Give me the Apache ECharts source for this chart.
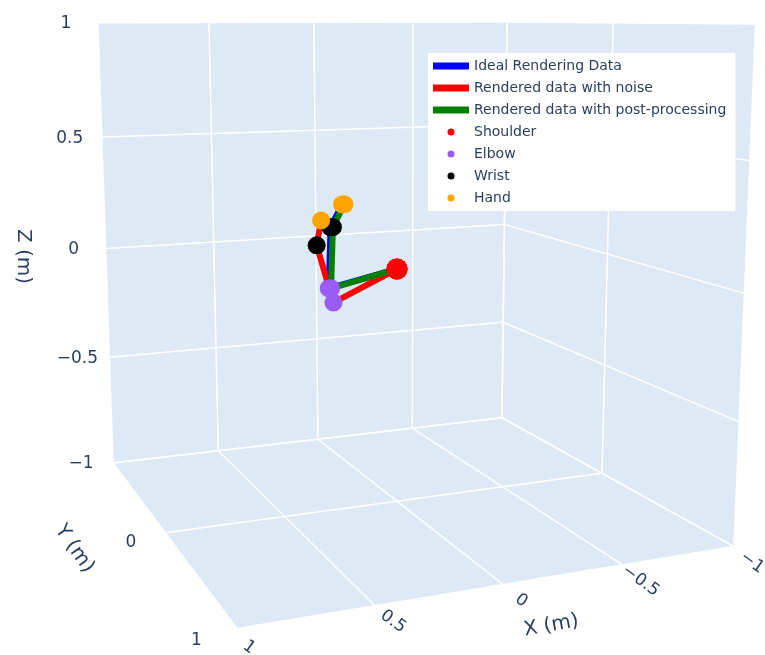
<!DOCTYPE html>
<html>
<head>
<meta charset="utf-8">
<script src="https://cdn.jsdelivr.net/npm/echarts@6/dist/echarts.min.js"></script>
<style>
html, body { margin: 0; padding: 0; background: #fff; }
#chart { width: 765px; height: 655px; }
</style>
</head>
<body>
<div id="chart"></div>
<script>
const xTicks = [-1, -0.5, 0, 0.5, 1]
const yTicks = [-1, 0, 1]
const zTicks = [-1, -0.5, 0, 0.5, 1]

// joint positions [x, y, z] in metres: shoulder, elbow, wrist, hand
const ideal = [[0, 0, 0], [0.30, 0, -0.06], [0.29, 0, 0.19], [0.24, 0, 0.28]]
const noise = [[0, 0, 0], [0.28, 0, -0.12], [0.35, 0, 0.12], [0.33, 0, 0.22]]
const post = [[0, 0, 0], [0.29, 0, -0.06], [0.28, 0, 0.19], [0.23, 0, 0.28]]

// perspective camera looking at the centre of the [-1, 1] cube
const camEye = [2.29, 5.49, 1.03]
const camFocal = 1463
const camCenter = [397, 269]

const dot = (a, b) => a[0] * b[0] + a[1] * b[1] + a[2] * b[2]

function cameraFrame(eye) {
    const n = Math.hypot(eye[0], eye[1], eye[2])
    const fw = [-eye[0] / n, -eye[1] / n, -eye[2] / n]
    const rn = Math.hypot(fw[0], fw[1])
    const rt = [fw[1] / rn, -fw[0] / rn, 0]
    const up = [rt[1] * fw[2] - rt[2] * fw[1], rt[2] * fw[0] - rt[0] * fw[2], rt[0] * fw[1] - rt[1] * fw[0]]
    return {fw, rt, up}
}

const frame = cameraFrame(camEye)

// 3D point -> value on the (pixel sized) cartesian axes
function P(p) {
    const d = [p[0] - camEye[0], p[1] - camEye[1], p[2] - camEye[2]]
    const zc = dot(d, frame.fw)
    return [camCenter[0] + camFocal * dot(d, frame.rt) / zc, camCenter[1] - camFocal * dot(d, frame.up) / zc]
}

const planes = [
    [[1, -1, -1], [1, 1, -1], [-1, 1, -1], [-1, -1, -1]],
    [[1, -1, -1], [-1, -1, -1], [-1, -1, 1], [1, -1, 1]],
    [[-1, -1, -1], [-1, 1, -1], [-1, 1, 1], [-1, -1, 1]]
]

const gridSegs = []
xTicks.forEach(x => {
    gridSegs.push([[x, -1, -1], [x, 1, -1]])
    gridSegs.push([[x, -1, -1], [x, -1, 1]])
})
yTicks.forEach(y => {
    gridSegs.push([[1, y, -1], [-1, y, -1]])
    gridSegs.push([[-1, y, -1], [-1, y, 1]])
})
zTicks.forEach(z => {
    gridSegs.push([[1, -1, z], [-1, -1, z]])
    gridSegs.push([[-1, -1, z], [-1, 1, z]])
})

const fmt = v => (v < 0 ? '\u2212' : '') + Math.abs(v)
const textColor = '#2a3f5f'
const fontName = 'DejaVu Sans'

const labels = []
xTicks.forEach(x => {
    const q = P([x, 1, -1])
    labels.push({p: [q[0] + (x === 1 ? 12 : 18), q[1] + (x === 1 ? 19 : 16)], t: fmt(x), r: -36, s: 17})
})
// y = -1 shares its label spot with z = -1
yTicks.filter(y => y !== -1).forEach(y => {
    const q = P([1.15, y, -1])
    labels.push({p: [q[0] + 3, q[1] + 5], t: fmt(y), r: 0, s: 17})
})
zTicks.forEach(z => {
    const q = P([1, -1, z])
    labels.push({p: [q[0] - 32, q[1] + 1], t: fmt(z), r: 0, s: 17})
})
let q = P([0, 1, -1])
labels.push({p: [q[0] + 48, q[1] + 41], t: 'X (m)', r: 10, s: 20})
q = P([1, 0, -1])
labels.push({p: [q[0] - 91, q[1] + 16], t: 'Y (m)', r: -55, s: 20})
q = P([1, -1, 0])
labels.push({p: [q[0] - 82, q[1] + 8], t: 'Z (m)', r: -90, s: 20})

const chart = echarts.init(document.getElementById('chart'))

const lineSeries = (name, pts, color, z) => ({
    name, type: 'line', data: pts.map(P), symbol: 'none', z,
    lineStyle: {color, width: 6}, itemStyle: {color}
})
const markerSeries = (name, idx, color, size) => ({
    name, type: 'scatter', data: [ideal[idx], noise[idx], post[idx]].map(P),
    symbolSize: size, itemStyle: {color, opacity: 1}, z: 10
})

chart.setOption({
    animation: false,
    grid: {left: 0, right: 0, top: 0, bottom: 0},
    xAxis: {type: 'value', min: 0, max: 765, show: false},
    yAxis: {type: 'value', min: 0, max: 655, inverse: true, show: false},
    legend: {
        orient: 'vertical', left: 428, top: 53, padding: [6, 9, 6, 5],
        backgroundColor: '#fff', itemWidth: 36, itemHeight: 7, itemGap: 8,
        textStyle: {color: textColor, fontFamily: fontName, fontSize: 14},
        data: [
            {name: 'Ideal Rendering Data', icon: 'rect'},
            {name: 'Rendered data with noise', icon: 'rect'},
            {name: 'Rendered data with post-processing', icon: 'rect'},
            {name: 'Shoulder', icon: 'circle'},
            {name: 'Elbow', icon: 'circle'},
            {name: 'Wrist', icon: 'circle'},
            {name: 'Hand', icon: 'circle'}
        ]
    },
    series: [
        {
            type: 'custom', z: 1, silent: true, clip: false,
            data: planes.map(pl => pl.map(P).flat()),
            renderItem: (params, api) => ({
                type: 'polygon',
                shape: {points: [0, 1, 2, 3].map(i => api.coord([api.value(2 * i), api.value(2 * i + 1)]))},
                style: {fill: '#DDE9F5'}
            })
        },
        {
            type: 'custom', z: 2, silent: true, clip: false,
            data: gridSegs.map(s => [...P(s[0]), ...P(s[1])]),
            renderItem: (params, api) => {
                const a = api.coord([api.value(0), api.value(1)])
                const b = api.coord([api.value(2), api.value(3)])
                return {type: 'line', shape: {x1: a[0], y1: a[1], x2: b[0], y2: b[1]}, style: {stroke: '#fff', lineWidth: 1.5}}
            }
        },
        {
            type: 'custom', z: 3, silent: true, clip: false,
            data: labels.map(l => l.p),
            renderItem: (params, api) => {
                const l = labels[params.dataIndex]
                const c = api.coord([api.value(0), api.value(1)])
                return {
                    type: 'text', x: c[0], y: c[1], rotation: l.r * Math.PI / 180,
                    style: {text: l.t, fill: textColor, font: l.s + 'px ' + fontName, align: 'center', verticalAlign: 'middle'}
                }
            }
        },
        lineSeries('Ideal Rendering Data', ideal, '#0000ff', 5),
        lineSeries('Rendered data with noise', noise, '#ff0000', 6),
        lineSeries('Rendered data with post-processing', post, '#008000', 7),
        markerSeries('Shoulder', 0, '#ff0000', 21),
        markerSeries('Elbow', 1, '#9b5cf6', 18),
        markerSeries('Wrist', 2, '#000000', 18),
        markerSeries('Hand', 3, '#ffa500', 18)
    ]
})
</script>
</body>
</html>
